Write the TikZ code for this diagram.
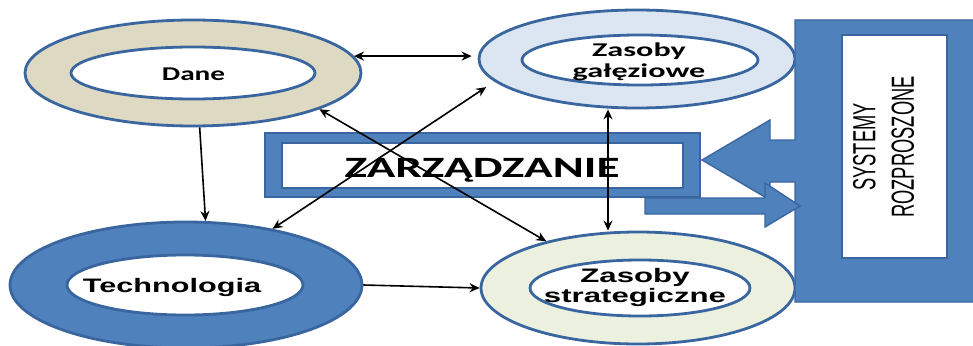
\documentclass[tikz,border=0pt]{standalone}
\usepackage{fontspec}
\newfontfamily\calfont{Carlito}
\newfontfamily\arifont{Liberation Sans}
\usetikzlibrary{shapes.geometric,arrows.meta}
\definecolor{blu}{HTML}{4F81BD}
\definecolor{edgec}{HTML}{3A66A0}
\definecolor{tanc}{HTML}{DDD9C3}
\definecolor{lblue}{HTML}{DCE6F2}
\definecolor{lgreen}{HTML}{EBF1DE}
\begin{document}
\begin{tikzpicture}[x=1pt,y=-1pt,
  ring/.style={ellipse,draw=edgec,line width=2.8pt,inner sep=0pt},
  hole/.style={ellipse,draw=edgec,line width=2.8pt,fill=white,inner sep=0pt},
  lbl/.style={inner sep=0pt,align=center,text=black},
  conn/.style={line width=1.6pt,draw=black},
  both/.style={conn,{Stealth[length=10pt,width=9pt]}-{Stealth[length=10pt,width=9pt]}},
  one/.style={conn,-{Stealth[length=10pt,width=9pt]}},
  blockshape/.style={fill=blu,draw=edgec,line width=1.4pt,line join=miter}]
\clip (0,0) rectangle (973,345);
\fill[white] (0,0) rectangle (973,345);
% rings
\node[ring,fill=tanc,minimum width=336pt,minimum height=106pt] (dane) at (193,73) {};
\node[hole,minimum width=244pt,minimum height=52pt] (daneIn) at (193,73) {};
\node[ring,fill=lblue,minimum width=316pt,minimum height=98pt] (gal) at (637,59) {};
\node[hole,minimum width=236pt,minimum height=50pt] (galIn) at (640,60) {};
\node[ring,fill=blu,minimum width=352pt,minimum height=126pt] (tech) at (186,285) {};
\node[hole,minimum width=236pt,minimum height=60pt] (techIn) at (185,285) {};
\node[ring,fill=lgreen,minimum width=314pt,minimum height=112pt] (strat) at (638,288) {};
\node[hole,minimum width=220pt,minimum height=56pt] (stratIn) at (640,288) {};
% labels
\node[lbl,anchor=base,font={\calfont\bfseries\fontsize{19.5}{21}\selectfont}] (daneT) at (193.5,80) {\scalebox{1.5}[1]{Dane}};
\node[lbl,font={\calfont\bfseries\fontsize{19.5}{21}\selectfont}] (galT) at (639,61.5) {\scalebox{1.65}[1]{Zasoby}\\\scalebox{1.65}[1]{gałęziowe}};
\node[lbl,anchor=base,font={\arifont\bfseries\fontsize{19.5}{21}\selectfont}] (techT) at (172,292) {\scalebox{1.57}[1]{Technologia}};
\node[lbl,font={\arifont\bfseries\fontsize{19.5}{20}\selectfont}] (stratT) at (635,287) {\scalebox{1.6}[1]{Zasoby}\\\scalebox{1.6}[1]{strategiczne}};
% ZARZADZANIE box
\node[fill=blu,draw=edgec,line width=1.4pt,minimum width=435pt,minimum height=64pt,inner sep=0pt] (zOut) at (482.5,165) {};
\node[fill=white,draw=edgec,line width=1.4pt,minimum width=401pt,minimum height=45pt,inner sep=0pt] (zIn) at (482.5,165.5) {};
\node[lbl,anchor=base,font={\calfont\bfseries\fontsize{29.5}{32}\selectfont}] (zT) at (482,177) {\scalebox{1.6}[1]{ZARZĄDZANIE}};
% SYSTEMY frame with arrow towards ZARZADZANIE
\path[blockshape] (985,20) -- (795,20) -- (795,140) -- (770,140) -- (770,120) -- (702,160) -- (770,200) -- (770,182) -- (795,182) -- (795,302) -- (985,302) -- cycle;
\node[fill=white,draw=edgec,line width=1.4pt,minimum width=105pt,minimum height=223pt,inner sep=0pt] (sysIn) at (894.5,146.5) {};
\node[lbl,rotate=90,font={\arifont\fontsize{20}{24}\selectfont}] (sysT) at (887,147) {\scalebox{0.915}[1.6]{\begin{tabular}{@{}c@{}}SYSTEMY\\ROZPROSZONE\end{tabular}}};
% arrow from ZARZADZANIE to SYSTEMY
\path[blockshape] (645,198) -- (765,198) -- (765,183) -- (800,206) -- (765,227) -- (765,214) -- (645,214) -- cycle;
% connectors
\draw[both,shorten >=6pt] (dane.6) -- (dane.6 -| gal.west);
\draw[one] (dane.277) -- (tech.73);
\draw[both] (dane.-16) -- (strat.153);
\draw[both,shorten >=10pt] (tech.33) -- (gal.189);
\draw[both] ([xshift=-29pt]gal.south) -- ([xshift=-29pt]gal.south |- strat.north);
\draw[one] (tech.east) -- (strat.west);
\end{tikzpicture}
\end{document}
